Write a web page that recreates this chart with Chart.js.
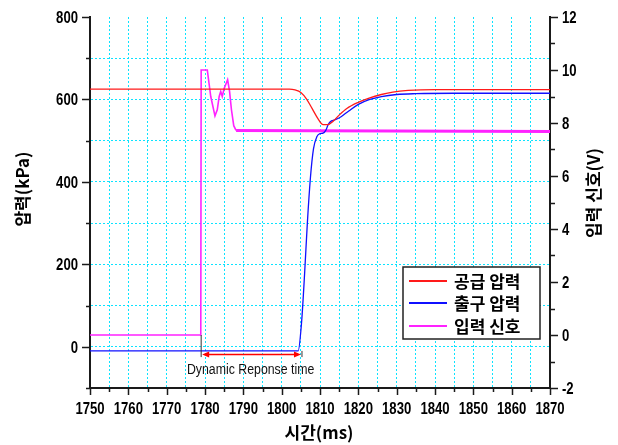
<!DOCTYPE html>
<html>
<head>
<meta charset="utf-8">
<script src="https://cdn.jsdelivr.net/npm/chart.js@4"></script>
<style>
  html, body { margin: 0; padding: 0; background: #fff; }
  #wrap { width: 618px; height: 445px; }
</style>
</head>
<body>
<div id="wrap"><canvas id="chart" width="618" height="445"></canvas></div>
<script>
// 공급 압력 (kPa, left axis)
const supplyTime = [1750, 1802, 1803.5, 1805, 1806.5, 1808, 1809.5, 1810.8, 1812, 1813.5, 1815, 1817, 1820, 1823, 1826, 1829, 1833, 1840, 1870];
const supplyKPa  = [625, 625, 623, 617, 601, 577, 553, 539, 539, 548, 562, 578, 593, 604, 612, 618, 622, 624, 624];

// 출구 압력 (kPa, left axis)
const outletTime = [1750, 1804.3, 1805.2, 1806, 1806.7, 1807.5, 1808.3, 1809.2, 1810, 1810.8, 1811.5, 1812.2, 1813, 1814, 1815.5, 1817.5, 1820, 1823, 1826, 1830, 1835, 1845, 1870];
const outletKPa  = [-10, -10, 60, 180, 300, 410, 480, 510, 517, 518, 525, 540, 548, 551, 558, 572, 588, 600, 607, 612, 614, 615, 615];

// 입력 신호 (V, right axis)
const signalTime = [1750, 1778.9, 1779.0, 1780.6, 1781.5, 1782.6, 1783.2, 1783.7, 1784.1, 1784.5, 1785.0, 1785.9, 1786.4, 1786.9, 1787.5, 1788.1, 1870];
const signalVolt = [0, 0, 10, 10, 9.0, 8.27, 8.5, 9.0, 9.19, 9.0, 9.3, 9.63, 9.2, 8.5, 7.9, 7.72, 7.68];

// tick labels
const xTickLabels = [1750, 1760, 1770, 1780, 1790, 1800, 1810, 1820, 1830, 1840, 1850, 1860, 1870];
const leftTickLabels = [0, 200, 400, 600, 800];
const rightTickLabels = [-2, 0, 2, 4, 6, 8, 10, 12];

// annotation: response window (ms)
const responseStart = 1779;
const responseEnd = 1805.3;
const responseLabel = 'Dynamic Reponse time';

const SANS = '"Liberation Sans", Arial, sans-serif';
const KR = '"Noto Sans CJK KR", "Noto Sans", sans-serif';
const GRID = 'rgba(0, 225, 255, 0.95)';
const AXIS = '#1a1a1a';
const SQUEEZE = 0.82; // the original uses a narrow face

function toPoints(xs, ys) {
    return xs.map((x, i) => ({ x: x, y: ys[i] }));
}

function narrowText(ctx, text, px, py, squeeze) {
    ctx.save();
    ctx.translate(px, py);
    ctx.scale(squeeze || SQUEEZE, 1);
    ctx.fillText(text, 0, 0);
    ctx.restore();
}

const extras = {
    id: 'extras',
    afterDraw(chart) {
        const ctx = chart.ctx;
        const x = chart.scales.x, y = chart.scales.y, y2 = chart.scales.y2;
        const area = chart.chartArea;
        ctx.save();

        // tick marks
        ctx.strokeStyle = AXIS;
        ctx.lineWidth = 1.5;
        ctx.beginPath();
        for (let v = 1750; v <= 1870; v += 5) {
            const px = Math.round(x.getPixelForValue(v)) + 0.5;
            ctx.moveTo(px, area.bottom);
            ctx.lineTo(px, area.bottom + (v % 10 === 0 ? 7 : 4));
        }
        for (let v = -100; v <= 800; v += 100) {
            const py = Math.round(y.getPixelForValue(v)) + 0.5;
            ctx.moveTo(area.left, py);
            ctx.lineTo(area.left - (v % 200 === 0 ? 8 : 4), py);
        }
        for (let v = -2; v <= 12; v += 1) {
            const py = Math.round(y2.getPixelForValue(v)) + 0.5;
            ctx.moveTo(area.right, py);
            ctx.lineTo(area.right + (v % 2 === 0 ? 8 : 5), py);
        }
        ctx.stroke();

        // tick labels
        ctx.fillStyle = '#000';
        ctx.font = 'bold 16px ' + SANS;
        ctx.textBaseline = 'alphabetic';
        ctx.textAlign = 'center';
        xTickLabels.forEach(v => narrowText(ctx, String(v), x.getPixelForValue(v), 414));
        ctx.textAlign = 'right';
        leftTickLabels.forEach(v => narrowText(ctx, String(v), 78, y.getPixelForValue(v) + 6));
        ctx.textAlign = 'left';
        rightTickLabels.forEach(v => narrowText(ctx, String(v), 562, y2.getPixelForValue(v) + 6));

        // response time annotation
        const xs = x.getPixelForValue(responseStart);
        const xe = x.getPixelForValue(responseEnd);
        const yb = y.getPixelForValue(-25);
        ctx.strokeStyle = '#333';
        ctx.lineWidth = 1;
        ctx.beginPath();
        ctx.moveTo(xs, y2.getPixelForValue(0));
        ctx.lineTo(xs, yb);
        ctx.moveTo(xe, y.getPixelForValue(-10));
        ctx.lineTo(xe, yb);
        ctx.stroke();

        const ya = y.getPixelForValue(-18.5);
        ctx.strokeStyle = '#f00';
        ctx.fillStyle = '#f00';
        ctx.lineWidth = 1.5;
        ctx.beginPath();
        ctx.moveTo(xs + 4, ya);
        ctx.lineTo(xe - 4, ya);
        ctx.stroke();
        ctx.beginPath();
        ctx.moveTo(xs + 1, ya);
        ctx.lineTo(xs + 8, ya - 3);
        ctx.lineTo(xs + 8, ya + 3);
        ctx.closePath();
        ctx.moveTo(xe - 1, ya);
        ctx.lineTo(xe - 8, ya - 3);
        ctx.lineTo(xe - 8, ya + 3);
        ctx.closePath();
        ctx.fill();

        ctx.fillStyle = '#111';
        ctx.font = '14px ' + SANS;
        ctx.textAlign = 'center';
        ctx.textBaseline = 'alphabetic';
        narrowText(ctx, responseLabel, x.getPixelForValue(1791.9), 374, 0.88);

        // axis titles
        ctx.fillStyle = '#000';
        ctx.textBaseline = 'middle';
        ctx.font = 'bold 17px ' + KR;
        ctx.fillText('시간(ms)', 319, 433);
        ctx.save();
        ctx.translate(23, 189);
        ctx.rotate(-Math.PI / 2);
        ctx.fillText('압력(kPa)', 0, 0);
        ctx.restore();
        ctx.save();
        ctx.translate(594, 193);
        ctx.rotate(-Math.PI / 2);
        ctx.fillText('입력 신호(V)', 0, 0);
        ctx.restore();

        // legend
        const box = { left: 403, top: 267, width: 137, height: 72 };
        ctx.fillStyle = '#fff';
        ctx.fillRect(box.left, box.top, box.width, box.height);
        ctx.strokeStyle = '#222';
        ctx.lineWidth = 1.5;
        ctx.strokeRect(box.left, box.top, box.width, box.height);
        const rows = [281, 303, 326];
        ctx.textAlign = 'left';
        ctx.font = 'bold 17px ' + KR;
        chart.data.datasets.forEach((ds, i) => {
            ctx.strokeStyle = ds.borderColor;
            ctx.lineWidth = 2;
            ctx.beginPath();
            ctx.moveTo(409, rows[i]);
            ctx.lineTo(447, rows[i]);
            ctx.stroke();
            ctx.fillStyle = '#000';
            ctx.fillText(ds.label, 454, rows[i] + 1);
        });

        ctx.restore();
    }
};

new Chart(document.getElementById('chart'), {
    type: 'line',
    data: {
        datasets: [
            {
                label: '공급 압력',
                data: toPoints(supplyTime, supplyKPa),
                yAxisID: 'y',
                borderColor: '#ff1a1a',
                borderWidth: 1.3,
                pointRadius: 0,
                cubicInterpolationMode: 'monotone'
            },
            {
                label: '출구 압력',
                data: toPoints(outletTime, outletKPa),
                yAxisID: 'y',
                borderColor: '#1010ff',
                borderWidth: 1.3,
                pointRadius: 0,
                cubicInterpolationMode: 'monotone'
            },
            {
                label: '입력 신호',
                data: toPoints(signalTime, signalVolt),
                yAxisID: 'y2',
                borderColor: '#ff22ff',
                borderWidth: 1.6,
                pointRadius: 0,
                tension: 0,
                segment: {
                    borderWidth: c => c.p0.parsed.x >= 1788 ? 3 : 1.6
                }
            }
        ]
    },
    options: {
        responsive: false,
        animation: false,
        layout: { padding: { top: 17, left: 0, right: 0, bottom: 0 } },
        plugins: {
            legend: { display: false },
            tooltip: { enabled: false }
        },
        scales: {
            x: {
                type: 'linear',
                min: 1750,
                max: 1870,
                afterFit: s => { s.height = 57; },
                ticks: { stepSize: 5, autoSkip: false, maxRotation: 0, display: false },
                grid: { color: GRID, lineWidth: 1, drawTicks: false },
                border: { display: true, color: AXIS, width: 2, dash: [2, 2] }
            },
            y: {
                position: 'left',
                min: -100,
                max: 800,
                afterFit: s => { s.width = 90; },
                ticks: { stepSize: 100, autoSkip: false, display: false },
                grid: {
                    color: c => (c.tick && (c.tick.value === 800 || c.tick.value === -100)) ? 'rgba(0,0,0,0)' : GRID,
                    lineWidth: 1,
                    drawTicks: false
                },
                border: { display: true, color: AXIS, width: 2, dash: [2, 2] }
            },
            y2: {
                position: 'right',
                min: -2,
                max: 12,
                afterFit: s => { s.width = 68; },
                ticks: { stepSize: 1, autoSkip: false, display: false },
                grid: { display: false, drawTicks: false },
                border: { display: true, color: AXIS, width: 2 }
            }
        }
    },
    plugins: [extras]
});
</script>
</body>
</html>
